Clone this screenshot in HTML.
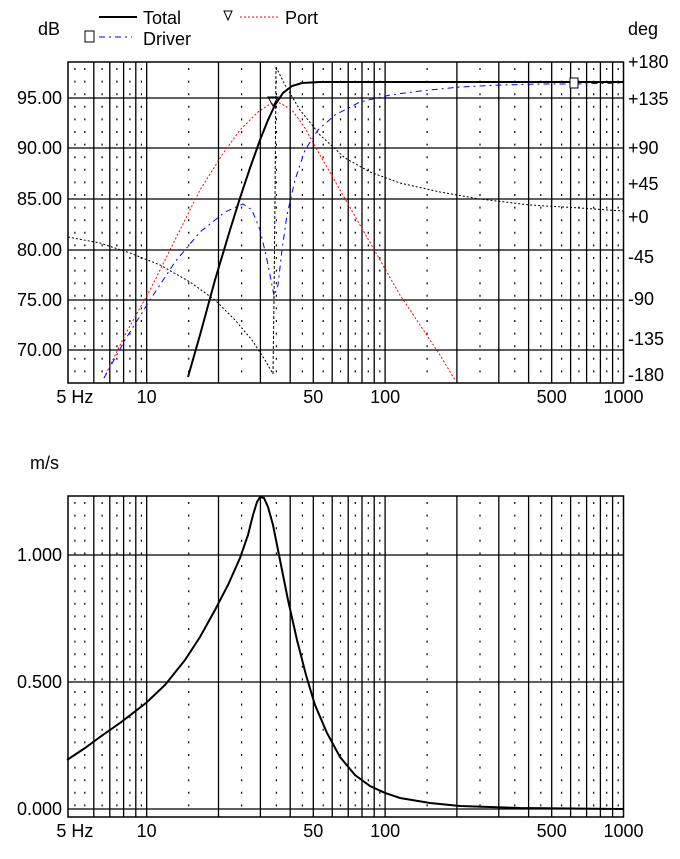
<!DOCTYPE html>
<html><head><meta charset="utf-8"><style>
html,body{margin:0;padding:0;background:#fff;}
svg{display:block;}
text{font-family:"Liberation Sans",sans-serif;font-size:18px;fill:#000;}
</style></head><body>
<svg width="680" height="859" viewBox="0 0 680 859" xmlns="http://www.w3.org/2000/svg">
<defs>
<g id="vgrid">
<path fill="none" stroke="#000" stroke-width="1.3" d="M93.8,0V321 M109.8,0V321 M123.6,0V321 M135.8,0V321 M146.7,0V321 M218.5,0V321 M260.4,0V321 M290.2,0V321 M313.3,0V321 M332.2,0V321 M348.2,0V321 M362,0V321 M374.2,0V321 M385.1,0V321 M456.9,0V321 M498.8,0V321 M528.6,0V321 M551.7,0V321 M570.6,0V321 M586.6,0V321 M600.4,0V321 M612.6,0V321"/>
<path fill="none" stroke="#000" stroke-width="1.2" stroke-dasharray="2,10.6" d="M74.9,6V318 M84.8,6V318 M102.1,6V318 M116.9,6V318 M129.9,6V318 M141.4,6V318 M188.7,6V318 M241.6,6V318 M276.4,6V318 M302.4,6V318 M323.2,6V318 M340.5,6V318 M355.3,6V318 M368.3,6V318 M379.8,6V318 M427.1,6V318 M480,6V318 M514.8,6V318 M540.8,6V318 M561.6,6V318 M578.9,6V318 M593.7,6V318 M606.7,6V318 M618.2,6V318"/>
<rect x="68" y="0" width="555.5" height="321" fill="none" stroke="#000" stroke-width="1.5"/>
</g>
</defs>

<!-- legend -->
<text x="38" y="35">dB</text>
<text x="628" y="35">deg</text>
<line x1="99" y1="17" x2="137" y2="17" stroke="#000" stroke-width="2"/>
<text x="143" y="24">Total</text>
<rect x="85" y="31" width="9" height="11" fill="none" stroke="#000"/>
<line x1="99" y1="37" x2="132" y2="37" stroke="#00f" stroke-width="1" stroke-dasharray="6,4,2,4"/>
<text x="143" y="45">Driver</text>
<path d="M224,11 L232,11 L228,20 Z" fill="none" stroke="#000"/>
<line x1="240" y1="17" x2="278" y2="17" stroke="#f00" stroke-dasharray="2,2"/>
<text x="285" y="24">Port</text>

<!-- top chart -->
<use href="#vgrid" x="0" y="62"/>
<path fill="none" stroke="#000" stroke-width="1.3" d="M68,98H623.5 M68,148H623.5 M68,199H623.5 M68,250H623.5 M68,300H623.5 M68,350H623.5"/>
<g text-anchor="end">
<text x="62" y="104">95.00</text><text x="62" y="154">90.00</text><text x="62" y="205">85.00</text>
<text x="62" y="256">80.00</text><text x="62" y="306">75.00</text><text x="62" y="356">70.00</text>
</g>
<text x="628" y="68">+180</text><text x="628" y="105">+135</text><text x="628" y="154">+90</text>
<text x="628" y="190">+45</text><text x="628" y="223">+0</text><text x="628" y="263">-45</text>
<text x="628" y="305">-90</text><text x="628" y="345">-135</text><text x="628" y="381">-180</text>
<g text-anchor="middle">
<text x="74.9" y="403">5 Hz</text>
<text x="146.7" y="403">10</text><text x="313.3" y="403">50</text><text x="385.1" y="403">100</text>
<text x="551.7" y="403">500</text><text x="623.5" y="403">1000</text>
</g>

<path fill="none" stroke="#000" stroke-width="1" stroke-dasharray="2,2" d="M68,237 L100,243 L130,253 L160,265 L190,282 L215,300 L235,320 L252,340 L265,360 L273,374"/>
<path fill="none" stroke="#000" stroke-width="1" stroke-dasharray="3,2" d="M273,374 L274,300 L275,200 L276,67"/>
<path fill="none" stroke="#000" stroke-width="1" stroke-dasharray="2,2" d="M276,67 L285,85 L300,110 L320,135 L345,158 L370,172 L400,183 L440,192 L480,199 L530,205 L580,208 L623,211"/>
<path fill="none" stroke="#f00" stroke-width="1" stroke-dasharray="2,2" d="M104,378 L125,335 L150,290 L175,240 L200,190 L222,155 L240,130 L258,112 L270,104 L280,103 L292,110 L305,128 L320,155 L340,190 L360,225 L380,260 L400,295 L420,325 L440,355 L455,380"/>
<path fill="none" stroke="#00f" stroke-width="1" stroke-dasharray="6,4,2,4" d="M104,378 L125,340 L150,300 L175,262 L200,232 L225,212 L243,204 L252,210 L260,230 L266,255 L271,280 L274,296 L278,285 L282,250 L287,215 L295,180 L305,150 L318,130 L335,115 L360,102 L390,95 L420,91 L460,87 L500,85 L540,84 L575,84 L623,83"/>
<path fill="none" stroke="#000" stroke-width="2" d="M188,377 L200,335 L215,280 L230,230 L240,198 L250,168 L260,140 L268,120 L275,105 L283,93 L292,86 L302,83 L320,82 L623,82"/>
<rect x="570" y="78" width="8" height="10" fill="#fff" stroke="#000"/>
<path d="M268,97 L278,97 L273,106 Z" fill="none" stroke="#000"/>

<!-- bottom chart -->
<use href="#vgrid" x="0" y="496"/>
<path fill="none" stroke="#000" stroke-width="1.3" d="M68,555H623.5 M68,682H623.5 M68,809H623.5"/>
<text x="30" y="469">m/s</text>
<g text-anchor="end">
<text x="62" y="561">1.000</text><text x="62" y="688">0.500</text><text x="62" y="815">0.000</text>
</g>
<g text-anchor="middle">
<text x="74.9" y="837">5 Hz</text>
<text x="146.7" y="837">10</text><text x="313.3" y="837">50</text><text x="385.1" y="837">100</text>
<text x="551.7" y="837">500</text><text x="623.5" y="837">1000</text>
</g>
<path fill="none" stroke="#000" stroke-width="2" d="M67,760 L85,748 L100,737 L120,723 L146,703 L165,685 L185,660 L200,637 L215,610 L228,585 L240,558 L248,535 L253,515 L257,502 L260,497 L264,498 L268,507 L273,525 L280,560 L288,600 L297,640 L306,675 L315,705 L327,733 L340,757 L355,775 L370,786 L385,793 L400,798 L430,803 L460,806 L520,808 L623,809"/>
</svg>
</body></html>
